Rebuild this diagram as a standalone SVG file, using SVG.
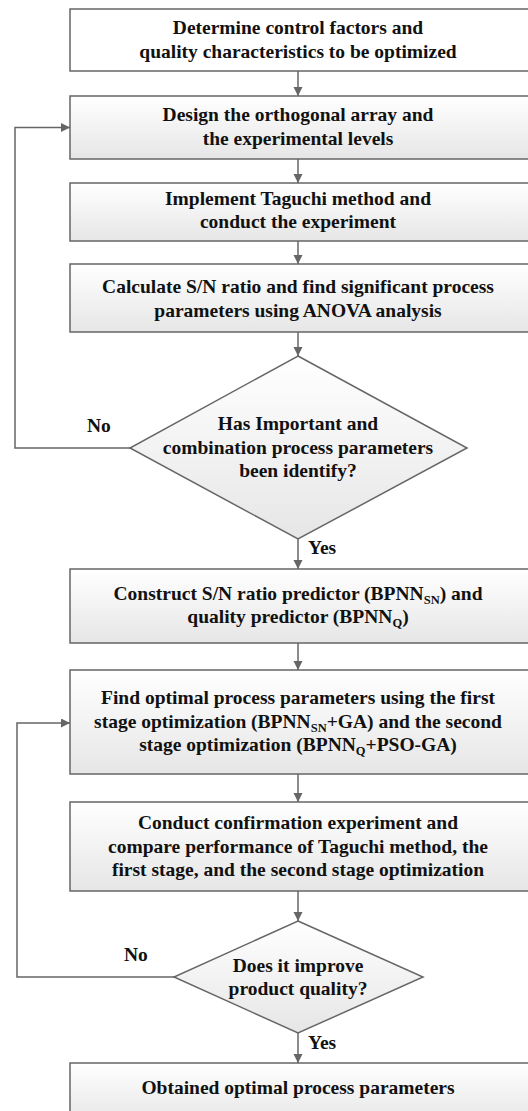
<svg xmlns="http://www.w3.org/2000/svg" width="528" height="1111" viewBox="0 0 528 1111">
<style>
.box{stroke:#666;stroke-width:1.5;fill:url(#g)}
.t{font-family:"Liberation Serif","Times New Roman",serif;font-weight:bold;font-size:19.5px;fill:#111;text-anchor:middle}
.lbl{font-family:"Liberation Serif","Times New Roman",serif;font-weight:bold;font-size:19.5px;fill:#111}
.sub{font-size:12.5px}
.c{stroke:#666;stroke-width:1.5;fill:none}
</style>
<defs>
<linearGradient id="g" x1="0" y1="0" x2="0" y2="1">
<stop offset="0" stop-color="#ffffff"/>
<stop offset="1" stop-color="#e6e6e6"/>
</linearGradient>
<marker id="a" markerUnits="userSpaceOnUse" markerWidth="10" markerHeight="10" refX="9" refY="4.5" orient="auto">
<path d="M0,0 L9,4.5 L0,9 Z" fill="#666"/>
</marker>
</defs>
<g id="connectors">
<line class="c" x1="298" y1="71" x2="298" y2="96" marker-end="url(#a)"/>
<line class="c" x1="298" y1="159" x2="298" y2="183" marker-end="url(#a)"/>
<line class="c" x1="298" y1="241" x2="298" y2="264" marker-end="url(#a)"/>
<line class="c" x1="298" y1="332" x2="298" y2="356" marker-end="url(#a)"/>
<line class="c" x1="298" y1="539" x2="298" y2="569" marker-end="url(#a)"/>
<line class="c" x1="298" y1="643" x2="298" y2="670" marker-end="url(#a)"/>
<line class="c" x1="298" y1="774" x2="298" y2="802" marker-end="url(#a)"/>
<line class="c" x1="298" y1="891" x2="298" y2="921" marker-end="url(#a)"/>
<line class="c" x1="298" y1="1033" x2="298" y2="1063" marker-end="url(#a)"/>
<polyline class="c" points="130,448 15,448 15,127.5 70,127.5" marker-end="url(#a)"/>
<polyline class="c" points="174,977 17,977 17,723 70,723" marker-end="url(#a)"/>
<text class="lbl" x="87" y="432">No</text>
<text class="lbl" x="308" y="554">Yes</text>
<text class="lbl" x="124" y="961">No</text>
<text class="lbl" x="308" y="1049">Yes</text>
</g>
<g id="n1">
<rect class="box" x="70" y="9" width="462" height="62" style="fill:#fff"/>
<text class="t" x="298" y="34">Determine control factors and</text>
<text class="t" x="298" y="58">quality characteristics to be optimized</text>
</g>
<g id="n2">
<rect class="box" x="70" y="96" width="462" height="63"/>
<text class="t" x="298" y="121">Design the orthogonal array and</text>
<text class="t" x="298" y="145">the experimental levels</text>
</g>
<g id="n3">
<rect class="box" x="70" y="183" width="462" height="58"/>
<text class="t" x="298" y="205">Implement Taguchi method and</text>
<text class="t" x="298" y="228">conduct the experiment</text>
</g>
<g id="n4">
<rect class="box" x="70" y="264" width="462" height="68"/>
<text class="t" x="298" y="293">Calculate S/N ratio and find significant process</text>
<text class="t" x="298" y="317">parameters using ANOVA analysis</text>
</g>
<g id="d1">
<polygon class="box" points="298,356 467,448 298,539 130,448"/>
<text class="t" x="298" y="430">Has Important and</text>
<text class="t" x="298" y="454">combination process parameters</text>
<text class="t" x="298" y="477">been identify?</text>
</g>
<g id="n5">
<rect class="box" x="70" y="569" width="462" height="74"/>
<text class="t" x="298" y="600">Construct S/N ratio predictor (BPNN<tspan class="sub" dy="4">SN</tspan><tspan dy="-4">) and</tspan></text>
<text class="t" x="298" y="623">quality predictor (BPNN<tspan class="sub" dy="4">Q</tspan><tspan dy="-4">)</tspan></text>
</g>
<g id="n6">
<rect class="box" x="70" y="670" width="462" height="104"/>
<text class="t" x="298" y="704">Find optimal process parameters using the first</text>
<text class="t" x="298" y="728">stage optimization (BPNN<tspan class="sub" dy="4">SN</tspan><tspan dy="-4">+GA) and the second</tspan></text>
<text class="t" x="298" y="751">stage optimization (BPNN<tspan class="sub" dy="4">Q</tspan><tspan dy="-4">+PSO-GA)</tspan></text>
</g>
<g id="n7">
<rect class="box" x="70" y="802" width="462" height="89"/>
<text class="t" x="298" y="829">Conduct confirmation experiment and</text>
<text class="t" x="298" y="853">compare performance of Taguchi method, the</text>
<text class="t" x="298" y="876">first stage, and the second stage optimization</text>
</g>
<g id="d2">
<polygon class="box" points="298,921 423,977 298,1033 174,977"/>
<text class="t" x="298" y="972">Does it improve</text>
<text class="t" x="298" y="995">product quality?</text>
</g>
<g id="n8">
<rect class="box" x="70" y="1063" width="462" height="60"/>
<text class="t" x="298" y="1094">Obtained optimal process parameters</text>
</g>
</svg>
